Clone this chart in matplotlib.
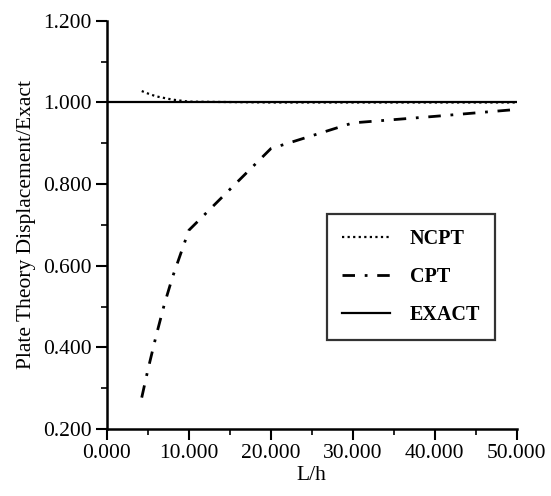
import matplotlib
matplotlib.use("Agg")
import matplotlib.pyplot as plt
from matplotlib.ticker import MultipleLocator, FormatStrFormatter

plt.rcParams['font.family'] = ['Liberation Serif', 'DejaVu Serif']

# ratio of plate theory displacement to exact, against L/h
cpt_lh = [4.25, 5.0, 6.0, 7.0, 8.0, 10.0, 20.0, 30.0, 40.0, 50.0]
cpt_ratio = [0.277, 0.345, 0.428, 0.505, 0.572, 0.687, 0.887, 0.950, 0.966, 0.983]

ncpt_lh = [4.25, 5.0, 6.0, 8.0, 10.0, 20.0, 30.0, 40.0, 50.0]
ncpt_ratio = [1.028, 1.022, 1.015, 1.007, 1.002, 1.000, 1.000, 1.000, 1.000]

exact_lh = [0.0, 50.0]
exact_ratio = [1.0, 1.0]

fig = plt.figure(figsize=(5.51, 4.96), dpi=100)
ax = fig.add_axes([0.194, 0.135, 0.744, 0.823])

ax.plot(ncpt_lh, ncpt_ratio, color='black', lw=1.6, linestyle=(0, (1, 1.5)), label='NCPT')
ax.plot(cpt_lh, cpt_ratio, color='black', lw=2.0, linestyle=(0, (4.5, 3.5, 1, 3.5)), label='CPT')
ax.plot(exact_lh, exact_ratio, color='black', lw=1.6, label='EXACT')

ax.set_xlim(0, 50)
ax.set_ylim(0.2, 1.2)
ax.xaxis.set_major_locator(MultipleLocator(10))
ax.xaxis.set_minor_locator(MultipleLocator(5))
ax.yaxis.set_major_locator(MultipleLocator(0.2))
ax.yaxis.set_minor_locator(MultipleLocator(0.1))
ax.xaxis.set_major_formatter(FormatStrFormatter('%.3f'))
ax.yaxis.set_major_formatter(FormatStrFormatter('%.3f'))

for side in ['top', 'right']:
    ax.spines[side].set_visible(False)
for side in ['left', 'bottom']:
    ax.spines[side].set_linewidth(1.8)

ax.tick_params(which='major', direction='out', length=8, width=1.5, labelsize=15.5, pad=3)
ax.tick_params(which='minor', direction='out', length=4, width=1.2)

ax.set_xlabel('L/h', fontsize=15.5, labelpad=2)
ax.set_ylabel('Plate Theory Displacement/Exact', fontsize=15.5, labelpad=5)

leg = ax.legend(loc='upper left', bbox_to_anchor=(0.537, 0.527),
                prop={'size': 14.5, 'weight': 'bold'},
                frameon=True, fancybox=False, edgecolor='black', handlelength=2.4,
                handletextpad=0.95, borderpad=0.75, labelspacing=0.9, borderaxespad=0)
leg.get_frame().set_linewidth(1.6)

fig.savefig('out.png', dpi=100)
